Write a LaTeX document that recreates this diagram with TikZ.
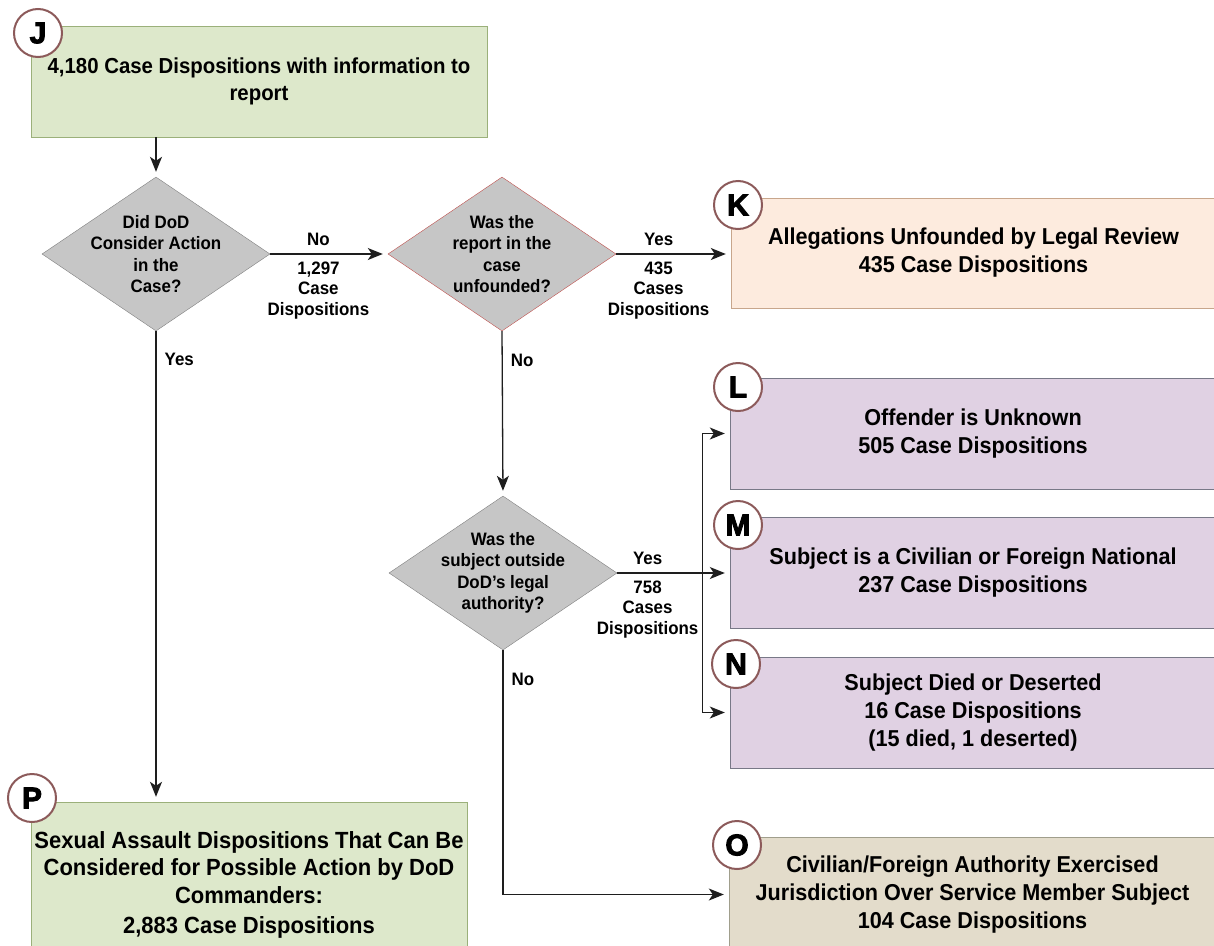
\documentclass[tikz,border=0pt]{standalone}
\usepackage{fontspec}
\setmainfont{Liberation Sans}[FakeStretch=0.94]
\newfontfamily\tagfont{Liberation Sans}[BoldFeatures={FakeBold=3}]
\usetikzlibrary{shapes.geometric,arrows.meta}
\definecolor{greenfill}{RGB}{221,232,203}
\definecolor{greenline}{RGB}{155,176,122}
\definecolor{peachfill}{RGB}{253,235,222}
\definecolor{peachline}{RGB}{200,166,140}
\definecolor{lilacfill}{RGB}{224,209,227}
\definecolor{lilacline}{RGB}{120,120,135}
\definecolor{tanfill}{RGB}{227,220,203}
\definecolor{tanline}{RGB}{160,158,140}
\definecolor{grayfill}{RGB}{198,198,198}
\definecolor{grayline}{RGB}{128,128,128}
\definecolor{redline}{RGB}{192,80,77}
\definecolor{tagline}{RGB}{140,90,90}
\definecolor{wire}{RGB}{30,30,30}

\begin{document}
\begin{tikzpicture}[x=1pt, y=-1pt,
        box/.style={draw, rectangle, inner sep=0pt, align=center, font=\bfseries\fontsize{23}{28}\selectfont},
        ask/.style={draw=grayline, fill=grayfill, diamond, inner sep=-20pt, minimum width=228pt, minimum height=154pt, align=center, font=\bfseries\fontsize{18}{21.5}\selectfont},
        tag/.style={circle, draw=tagline, fill=white, line width=2pt, minimum size=48pt, inner sep=0pt, font=\tagfont\bfseries\fontsize{30}{30}\selectfont},
        lbl/.style={font=\bfseries\fontsize{18}{20.5}\selectfont, align=center, inner sep=2pt},
        arr/.style={draw=wire, line width=1.3pt, -{Stealth[length=15pt, width=12pt, inset=4pt]}, shorten >=5pt}]
        \useasboundingbox (0,0) rectangle (1214,945);
        % boxes
        \node [box, draw=greenline, fill=greenfill, minimum width=456pt, minimum height=111pt, font=\bfseries\fontsize{21.7}{27}\selectfont] (J) at (259,81.5) {4,180 Case Dispositions with information to\\report};
        \node [box, draw=peachline, fill=peachfill, minimum width=485pt, minimum height=110pt] (K) at (973.5,253) {Allegations Unfounded by Legal Review\\435 Case Dispositions};
        \node [box, draw=lilacline, fill=lilacfill, minimum width=486pt, minimum height=111pt] (L) at (973,433.5) {Offender is Unknown\\505 Case Dispositions};
        \node [box, draw=lilacline, fill=lilacfill, minimum width=486pt, minimum height=111pt] (M) at (973,572.5) {Subject is a Civilian or Foreign National\\237 Case Dispositions};
        \node [box, draw=lilacline, fill=lilacfill, minimum width=486pt, minimum height=111pt] (N) at (973,712.5) {Subject Died or Deserted\\16 Case Dispositions\\(15 died, 1 deserted)};
        \node [box, draw=tanline, fill=tanfill, minimum width=487pt, minimum height=115pt] (O) at (972.5,894.5) {Civilian/Foreign Authority Exercised\\Jurisdiction Over Service Member Subject\\104 Case Dispositions};
        \node [box, draw=greenline, fill=greenfill, minimum width=436pt, minimum height=166pt, font=\bfseries\fontsize{23.4}{27.5}\selectfont] (P) at (249,885) {Sexual Assault Dispositions That Can Be\\Considered for Possible Action by DoD\\Commanders:\\[3pt]2,883 Case Dispositions};
        % decisions
        \node [ask] (D1) at (156,254) {Did DoD\\Consider Action\\in the\\Case?};
        \node [ask, draw=redline] (D2) at (502,254) {Was the\\report in the\\case\\unfounded?};
        \node [ask] (D3) at (503,573) {Was the\\subject outside\\DoD’s legal\\authority?};
        % letters
        \node [tag] (tJ) at (38,33) {J};
        \node [tag] (tK) at (738,205) {K};
        \node [tag] (tL) at (738,387) {L};
        \node [tag] (tM) at (738,525) {M};
        \node [tag] (tN) at (736,664) {N};
        \node [tag] (tO) at (737,845) {O};
        \node [tag] (tP) at (32,798) {P};
        % arrows
        \draw [arr] (J.south -| D1.north) -- (D1.north);
        \draw [arr] (D1.east) -- (D2.west) node [lbl, anchor=base, pos=0.41, yshift=9pt] {No} node [lbl, below=5pt, pos=0.41] {1,297\\Case\\Dispositions};
        \draw [arr] (D2.east) -- (D2.east -| K.west) node [lbl, anchor=base, pos=0.37, yshift=9pt] {Yes} node [lbl, below=5pt, pos=0.37] {435\\Cases\\Dispositions};
        \draw [arr] (D1.south) -- (D1.south |- P.north) node [lbl, right=6pt, pos=0.06] {Yes};
        \draw [arr] (D2.south) -- (D3.north) node [lbl, right=6pt, pos=0.175] {No};
        \draw [arr] (D3.east) -- (D3.east -| M.west) node [lbl, anchor=base, pos=0.27, yshift=9pt] {Yes} node [lbl, below=5pt, pos=0.27] {758\\Cases\\Dispositions};
        \path (D3.east) ++(85,0) coordinate (fork);
        \draw [arr] (fork) |- (L.west);
        \draw [arr] (fork) |- (N.west);
        \draw [arr] (D3.south) |- (O.west) node [lbl, right=6pt, pos=0.06] {No};
\end{tikzpicture}
\end{document}
